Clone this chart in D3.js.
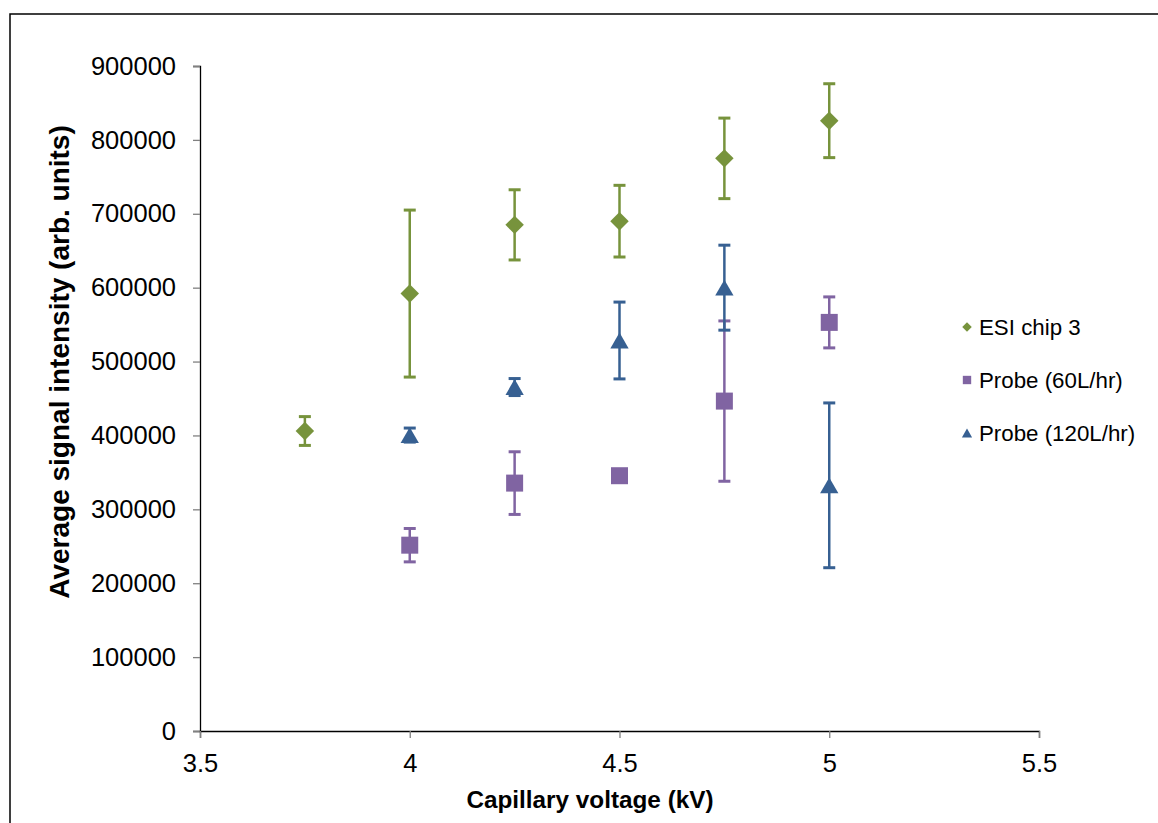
<!DOCTYPE html>
<html>
<head>
<meta charset="utf-8">
<script src="https://cdn.jsdelivr.net/npm/d3@7"></script>
<style>
  html, body { margin: 0; padding: 0; background: #fff; }
  svg { display: block; font-family: "Liberation Sans", Arial, sans-serif; }
</style>
</head>
<body>
<div id="chart"></div>
<script>
// capillary voltage (kV)
var voltsEsi = [3.75, 4, 4.25, 4.5, 4.75, 5]
var esiMean  = [406000, 592000, 685000, 690000, 775000, 826000]
var esiErr   = [19500, 113000, 47500, 48500, 54500, 50000]

var voltsProbe = [4, 4.25, 4.5, 4.75, 5]
var p60Mean  = [251500, 335500, 345500, 446500, 553000]
var p60Err   = [22600, 42400, 6000, 108500, 34500]
var p120Mean = [400500, 465500, 528500, 600000, 332500]
var p120Err  = [9500, 11500, 52000, 57500, 111500]

var xTicks = [3.5, 4, 4.5, 5, 5.5]
var yTicks = [0, 100000, 200000, 300000, 400000, 500000, 600000, 700000, 800000, 900000]

var seriesNames  = ['ESI chip 3', 'Probe (60L/hr)', 'Probe (120L/hr)']
var seriesColors = ['#77933c', '#8064a2', '#376092']

// triangle centred on its bounding box, like Excel does
var triangleBox = {
  draw(ctx, size) {
    var w = Math.sqrt(size * 4 / Math.sqrt(3))
    var h = w * Math.sqrt(3) / 2
    ctx.moveTo(0, -h/2)
    ctx.lineTo(w/2, h/2)
    ctx.lineTo(-w/2, h/2)
    ctx.closePath()
  }
}
var diamond = {
  draw(ctx, size) {
    var r = Math.sqrt(size / 2)
    ctx.moveTo(0, -r); ctx.lineTo(r, 0); ctx.lineTo(0, r); ctx.lineTo(-r, 0); ctx.closePath()
  }
}

var series = [
  {name: seriesNames[0], color: seriesColors[0], shape: diamond,      size: 170, legendSize: 45,
    pts: voltsEsi.map((v, i) => ({x: v, y: esiMean[i], e: esiErr[i]}))},
  {name: seriesNames[1], color: seriesColors[1], shape: d3.symbolSquare, size: 289, legendSize: 70,
    pts: voltsProbe.map((v, i) => ({x: v, y: p60Mean[i], e: p60Err[i]}))},
  {name: seriesNames[2], color: seriesColors[2], shape: triangleBox,  size: 145, legendSize: 45,
    pts: voltsProbe.map((v, i) => ({x: v, y: p120Mean[i], e: p120Err[i]}))},
]

var W = 1158, H = 823
var svg = d3.select('#chart').append('svg').attr('width', W).attr('height', H)

// outer chart frame (runs off the right and bottom edges)
svg.append('rect')
  .attr('x', 10).attr('y', 14).attr('width', W + 10).attr('height', H + 10)
  .attr('fill', 'none').attr('stroke', '#000').attr('stroke-width', 1.5)

var x = d3.scaleLinear().domain([3.5, 5.5]).range([200, 1039])
var y = d3.scaleLinear().domain([0, 900000]).range([731, 66])

var fs = 25.5

// y axis
var yAxis = svg.append('g').attr('transform', 'translate(200,0)')
  .call(d3.axisLeft(y).tickValues(yTicks).tickFormat(d3.format('d')).tickSize(7).tickPadding(17))
yAxis.select('.domain').attr('stroke', '#000').attr('stroke-width', 1.3)
yAxis.selectAll('.tick line').attr('stroke', '#808080').attr('stroke-width', 1.3)
yAxis.selectAll('.tick text').attr('font-size', fs).attr('fill', '#000')
  .attr('font-family', '"Liberation Sans", Arial, sans-serif')

// x axis
var xAxis = svg.append('g').attr('transform', 'translate(0,731)')
  .call(d3.axisBottom(x).tickValues(xTicks).tickFormat(d => d).tickSize(7).tickPadding(16))
xAxis.select('.domain').attr('stroke', '#000').attr('stroke-width', 1.3)
xAxis.selectAll('.tick line').attr('stroke', '#808080').attr('stroke-width', 1.3)
xAxis.selectAll('.tick text').attr('font-size', fs).attr('fill', '#000')
  .attr('font-family', '"Liberation Sans", Arial, sans-serif')

// axis titles
svg.append('text')
  .attr('x', 590).attr('y', 808)
  .attr('text-anchor', 'middle')
  .attr('font-size', 24.3).attr('font-weight', 'bold')
  .text('Capillary voltage (kV)')

svg.append('text')
  .attr('transform', 'translate(69,362) rotate(-90)')
  .attr('text-anchor', 'middle')
  .attr('font-size', 28).attr('font-weight', 'bold')
  .text('Average signal intensity (arb. units)')

// error bars then markers
var cap = 6
series.forEach(s => {
  var g = svg.append('g').attr('stroke', s.color).attr('stroke-width', 2.5)
  g.selectAll('line.bar').data(s.pts).join('line').attr('class', 'bar')
    .attr('x1', d => x(d.x)).attr('x2', d => x(d.x))
    .attr('y1', d => y(d.y + d.e)).attr('y2', d => y(d.y - d.e))
  g.selectAll('line.top').data(s.pts).join('line').attr('class', 'top')
    .attr('x1', d => x(d.x) - cap).attr('x2', d => x(d.x) + cap)
    .attr('y1', d => y(d.y + d.e)).attr('y2', d => y(d.y + d.e))
    .attr('stroke-width', 3)
  g.selectAll('line.bot').data(s.pts).join('line').attr('class', 'bot')
    .attr('x1', d => x(d.x) - cap).attr('x2', d => x(d.x) + cap)
    .attr('y1', d => y(d.y - d.e)).attr('y2', d => y(d.y - d.e))
    .attr('stroke-width', 3)
})

series.forEach(s => {
  svg.append('g').selectAll('path').data(s.pts).join('path')
    .attr('d', d3.symbol(s.shape, s.size))
    .attr('transform', d => `translate(${x(d.x)},${y(d.y)})`)
    .attr('fill', s.color)
})

// legend
var leg = svg.append('g').selectAll('g').data(series).join('g')
  .attr('transform', (d, i) => `translate(967,${327 + i * 53})`)
leg.append('path')
  .attr('d', d => d3.symbol(d.shape, d.legendSize)())
  .attr('fill', d => d.color)
leg.append('text')
  .attr('x', 12).attr('dy', '0.35em')
  .attr('font-size', 22.3)
  .text(d => d.name)
</script>
</body>
</html>
